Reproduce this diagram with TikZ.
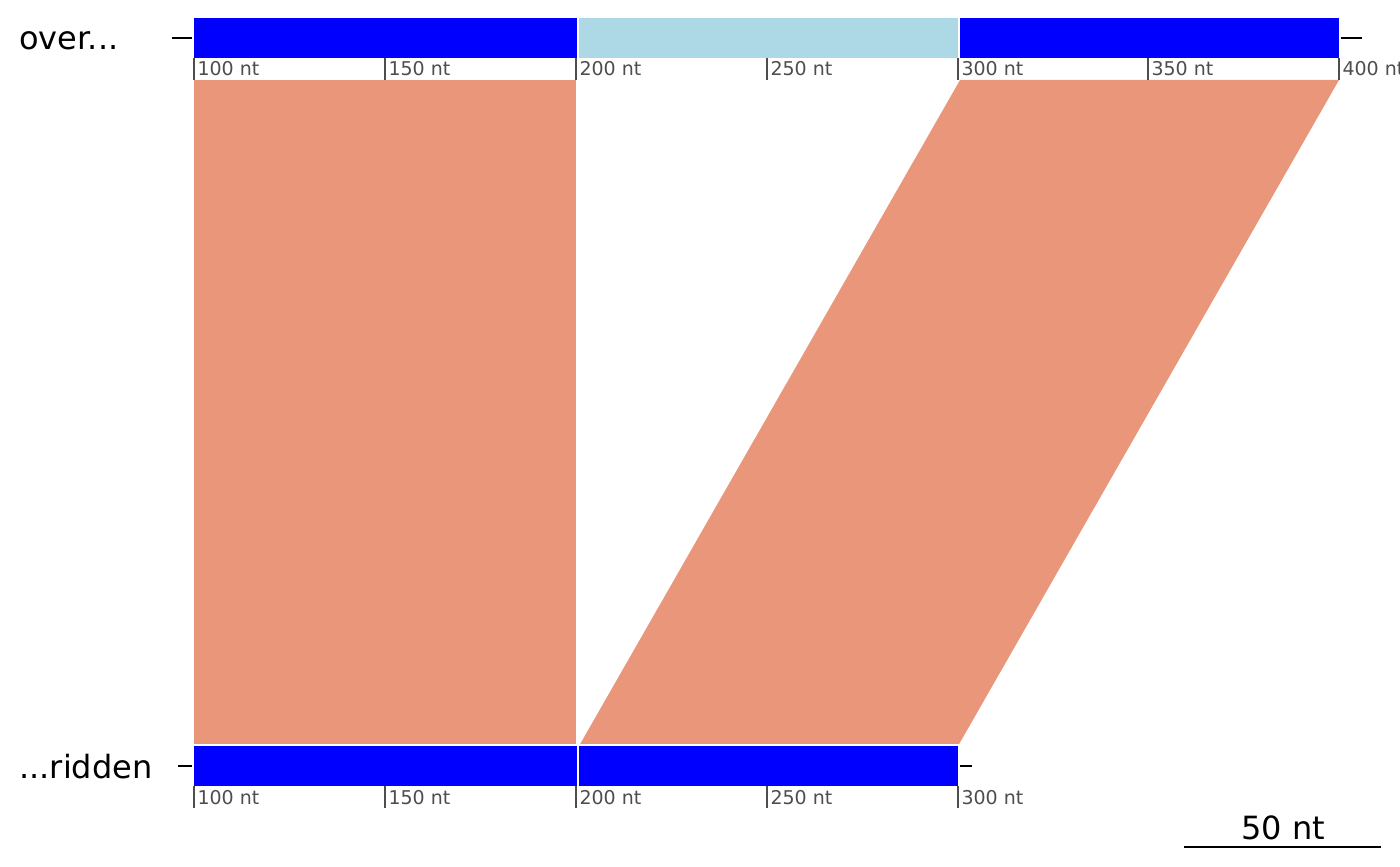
\documentclass[tikz,border=0pt]{standalone}
\usepackage{fontspec}
\setmainfont{DejaVu Sans}
\usepackage{tikz}
\definecolor{lachs}{RGB}{233,150,122}
\definecolor{hellblau}{RGB}{173,216,230}
\definecolor{tickgrau}{RGB}{77,77,77}

\begin{document}
\begin{tikzpicture}[block/.style={fill=#1, draw=white, line width=1pt},
			ticklabel/.style={anchor=base west, inner sep=0pt, text=tickgrau, font=\fontsize{9.5}{11}\selectfont},
			x=0.5pt, y=-0.5pt,   %Pixelraster
			font=\fontsize{16}{19}\selectfont]
			%Bildbereich
			\useasboundingbox (0,0) rectangle (1400,866);
			% Verbindungen zeichnen
			\fill[lachs] (194,80) -- (576,80) -- (576,746) -- (194,746) -- cycle;
			\fill[lachs] (960,80) -- (1339,80) -- (958,746) -- (579,746) -- cycle;
			% Achsen zeichnen
			\draw[line width=1pt] (172,38) -- (1362,38);
			\draw[line width=1pt] (178,766) -- (972,766);
			% Bloecke zeichnen
			\draw[block=blue] (193,17) rectangle (578,59);
			\draw[block=hellblau] (578,17) rectangle (959,59);
			\draw[block=blue] (959,17) rectangle (1340,59);
			\draw[block=blue] (193,745) rectangle (578,787);
			\draw[block=blue] (578,745) rectangle (959,787);
			% Achsen beschriften
			\foreach \x/\nt in {194/100,385/150,576/200,767/250,958/300,1148/350,1339/400}
				\draw[tickgrau, line width=1pt] (\x,58) -- (\x,80) node[ticklabel] (o\nt) at (\x+2.5,76) {\nt\ nt};
			\foreach \x/\nt in {194/100,385/150,576/200,767/250,958/300}
				\draw[tickgrau, line width=1pt] (\x,786) -- (\x,808) node[ticklabel] (u\nt) at (\x+2.5,804) {\nt\ nt};
			% Namen
			\node[anchor=base west, inner sep=0pt] (over) at (19,50) {over...};
			\node[anchor=base west, inner sep=0pt] (ridden) at (19,778) {...ridden};
			% Massstab
			\draw[line width=1pt] (1184,847) -- (1381,847);
			\node[anchor=base, inner sep=0pt] (massstab) at (1283,839) {50 nt};
		\end{tikzpicture}
\end{document}
